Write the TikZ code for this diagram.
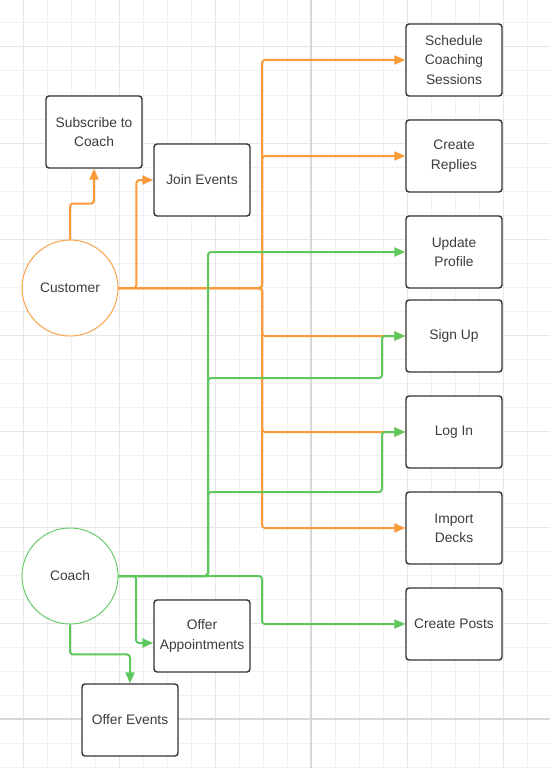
\documentclass[tikz,border=0pt]{standalone}
\usepackage{fontspec}
\setmainfont{Liberation Sans}
\usetikzlibrary{arrows.meta,calc}
\definecolor{orng}{HTML}{FA9A3B}
\definecolor{grn}{HTML}{5EC75E}
\definecolor{txt}{HTML}{3C3C3C}
\definecolor{bord}{HTML}{333333}
\definecolor{gminor}{HTML}{F0F0F0}
\definecolor{gmajor}{HTML}{E6E6E6}
\definecolor{gaxis}{HTML}{D8D8D8}
\begin{document}
\begin{tikzpicture}[x=1pt,y=-1pt,
  lbl/.style={text=txt, font=\fontsize{13.8}{19.3}\selectfont},
  box/.style={lbl, draw=bord, line width=1.4pt, rounded corners=3pt, minimum width=96pt, minimum height=72pt, inner sep=2pt, align=center, fill=white},
  actor/.style={lbl, circle, draw=#1, line width=0.9pt, minimum size=96pt, inner sep=0pt, fill=white},
  tip/.style={-{Triangle[length=11pt,width=9pt]}},
  olink/.style={draw=orng, line width=2pt, rounded corners=3pt, tip},
  glink/.style={draw=grn, line width=2pt, rounded corners=3pt, tip},
  minorline/.style={draw=gminor, line width=1pt},
  majorline/.style={draw=gmajor, line width=1pt},
  axisline/.style={draw=gaxis, line width=2pt}]
\useasboundingbox (0,0) rectangle (550,768);
\fill[white] (0,0) rectangle (550,768);
% grid
\foreach \i in {0,...,23} {\draw[minorline] ({24*\i-1},0) -- ({24*\i-1},768);}
\foreach \j in {0,...,32} {\draw[minorline] (0,{24*\j-1}) -- (550,{24*\j-1});}
\foreach \xx in {23,119,215,407,503} {\draw[majorline] (\xx,0) -- (\xx,768);}
\foreach \yy in {47,143,239,335,431,527,623} {\draw[majorline] (0,\yy) -- (550,\yy);}
\draw[axisline] (311,0) -- (311,768);
\draw[axisline] (0,719) -- (550,719);
% nodes
\node[box] (sched) at (454,60) {Schedule\\Coaching\\Sessions};
\node[box] (replies) at (454,156) {Create\\Replies};
\node[box] (profile) at (454,252) {Update\\Profile};
\node[box] (signup) at (454,336) {Sign Up};
\node[box] (login) at (454,432) {Log In};
\node[box] (import) at (454,528) {Import\\Decks};
\node[box] (posts) at (454,624) {Create Posts};
\node[box] (subscribe) at (94,132) {Subscribe to\\Coach};
\node[box] (join) at (202,180) {Join Events};
\node[actor=orng] (customer) at (70,288) {Customer};
\node[actor=grn] (coach) at (70,576) {Coach};
\node[box] (offerapp) at (202,636) {Offer\\Appointments};
\node[box] (offerev) at (130,720) {Offer Events};
% junction coordinates
\coordinate (ob) at (262,288);
\coordinate (gb) at (208,576);
\coordinate (gs) at (382,378);
\coordinate (gl) at (382,492);
\coordinate (gp) at (262,576);
\coordinate (ga) at (136,576);
\coordinate (oa) at ($(offerapp.west)+(0,7)$);
% customer links
\draw[olink] (customer.north) -- ++(0,-36) -| (subscribe.south);
\draw[olink] (customer.east) -- ++(18,0) |- (join.west);
\draw[olink] (customer.east) -- (ob) |- (sched.west);
\draw[olink] (customer.east) -- (ob) |- (replies.west);
\draw[olink] (customer.east) -- (ob) |- (signup.west);
\draw[olink] (customer.east) -- (ob) |- (login.west);
\draw[olink] (customer.east) -- (ob) |- (import.west);
% coach links
\draw[glink] (coach.east) -- (gb) |- (profile.west);
\draw[glink] (coach.east) -- (gb) |- (gs) |- (signup.west);
\draw[glink] (coach.east) -- (gb) |- (gl) |- (login.west);
\draw[glink] (coach.east) -- (gp) |- (posts.west);
\draw[glink] (coach.east) -- (ga) |- (oa);
\draw[glink] (coach.south) -- ++(0,30) -| (offerev.north);
\end{tikzpicture}
\end{document}
